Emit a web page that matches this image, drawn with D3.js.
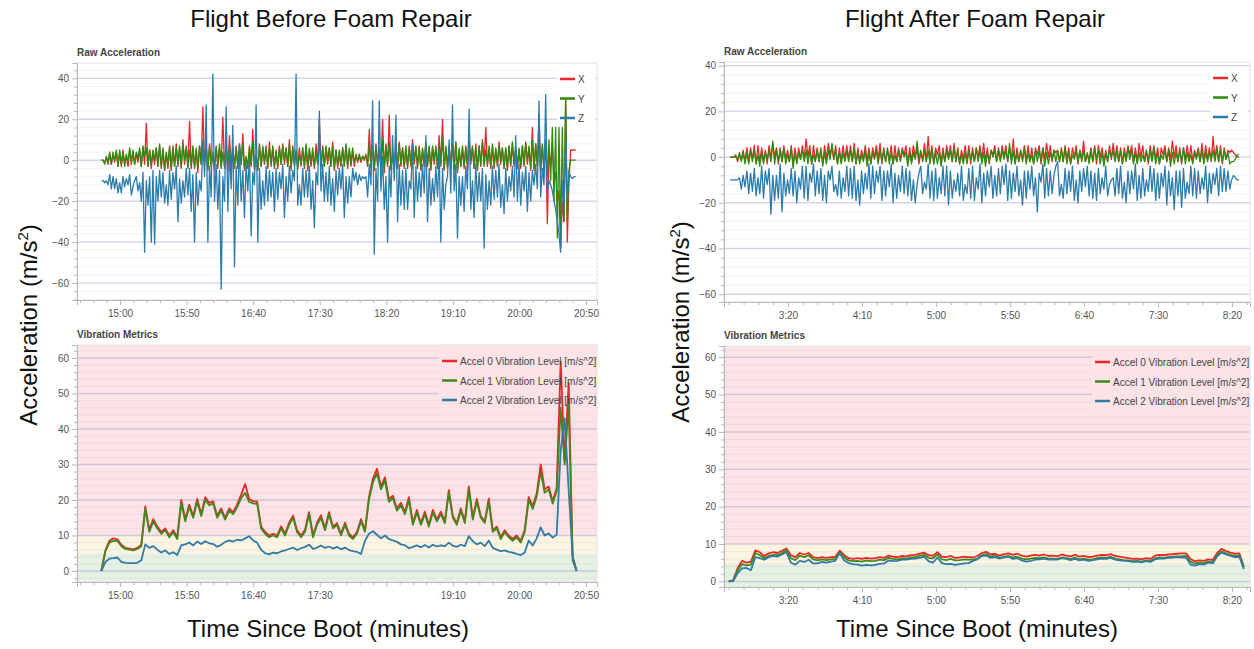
<!DOCTYPE html>
<html>
<head>
<meta charset="UTF-8">
<title>Vibration before / after foam repair</title>
<style>
  body { margin: 0; background: #fff; }
  svg text { font-family: "Liberation Sans", Arial, sans-serif; }
</style>
</head>
<body>
<script src="https://cdn.jsdelivr.net/npm/d3@7"></script>
<script>
// ---- data ----
// raw acceleration, sampled every rawStep seconds starting at the given boot time
const rawStep = 1.25
const beforeRawStart = 886
const beforeX = [0,0,-1,1,-2,3,-2,3,-1,4,-3,4,-3,5,-2,2,-3,5,-2,4,-2,3,-1,5,
  -3,6,-2,18,-3,5,-4,4, -2,6,-3,7,-4,5,-5,3,
  -4,6,-5,7,-3,8,-3,6,-4,10,-2,7,-3,19,-4,6, -4,5,-6,7,-2,26,-3,8,-5,8,-3,4,-5,7,-4,6,
  -3,21,-4,8,-5,12,-6,6,-4,7,-3,8,-2,13,-5,2, -4,7,-3,15,-5,3,-5,8,-3,6,-2,7,-4,9,-3,6,
  -4,5,-4,7,-2,8,-2,6,-3,10,-5,7,-3,4,-4,6, -3,6,-4,7,-5,5,-3,4,-4,8,-2,20,-4,7,-3,6,
  -2,6,-3,9,-5,5,-4,3,-3,6,-2,7,-4,5,-3,5, -3,3,-1,2,-1,2,0,3,
  -3,15,-4,7,-5,8,-3,6,-4,20,-6,8,-3,22,-5,4,-5,7,-4,9,-3,6,-4,6,
  -4,7,-3,10,-2,6,-4,7,-5,5,-3,8,-3,6,-5,6, -2,7,-4,12,-3,20,-5,6,-4,7,-3,8,-5,9,-6,5,
  -3,6,-4,7,-5,13,-2,6,-4,8,-5,7,-3,10,-2,16, -3,6,-4,7,-4,5,-3,9,-2,6,-4,6,-5,7,-3,8,
  -3,6,-4,5,-4,7,-3,9,-2,6,-5,16,-5,8,-3,22, -6,7,-4,10,-31,5,-3,8,-10,-6,-20,-15,-43,-20,-30,30,
  -40,-10,5,5,5,5]
const beforeY = [0,0,-2,2,-1,4,-2,4,0,5,-3,5,-2,4,-3,3,-1,6,-1,5,-2,4,1,6,
  -3,7,2,6,-3,5,-2,5, 0,6,-3,8,-3,6,-4,4,
  -2,7,-4,6,-3,6,-2,7,-3,8,0,6,-4,5,-3,7, -3,6,-4,7,-2,9,-1,6,-4,7,-3,3,-3,6,-2,8,
  -4,4,-3,7,-2,7,-2,6,-3,6,-4,7,-2,8,-4,1, -3,6,-2,9,-4,2,-4,7,-3,7,-1,6,-3,6,-2,7,
  -3,4,-3,6,-2,7,0,6,-3,8,-4,6,-2,5,-4,3, -2,6,-3,8,-3,6,-2,6,-3,4,-2,10,-3,6,-3,7,
  0,6,-3,7,-4,5,-2,5,-2,6,-3,8,-3,6,-2,6, -1,2,0,3,0,2,1,2,
  -2,8,-3,7,-4,7,-2,6,-3,10,-4,7,-2,9,-4,2,-4,7,-3,8,-2,6,-3,7,
  -3,6,-2,8,0,7,-3,6,-4,6,-2,9,-2,7,-4,7, 0,6,-3,8,-2,11,-4,7,-3,6,-2,8,-4,9,-5,6,
  -3,7,-3,6,-2,8,0,7,-4,6,-4,7,-2,9,-3,5, -2,7,-3,8,-3,6,-2,7,0,6,-4,6,-4,7,-2,9,
  -2,6,-3,6,-3,7,-2,8,0,7,-4,10,-4,8,-3,12, -5,8,-6,9,-8,10,-10,16,-20,16,-38,16,-38,16,-30,30,
  -30,-5,0,0,0,0]
const beforeZ = [-10,-10,-11,-10,-12,-7,-14,-8,-14,-9,-16,-11,-16,-8,-13,-9,-12,-7,-17,-13,-10,-8,-15,-11,
  -20,-6,-45,-10,-22,-8,-40,-5, -41,-8,-20,-5,-18,-6,-21,-12,
  -22,-5,-19,-6,-14,-3,-30,-9,-21,-10,-18,-4,-17,-4,-25,-7, -40,-6,-22,-10,-15,10,-8,27,-40,-3,-18,42,-20,-2,-24,-5,
  -63,-8,-20,26,-25,5,-14,17,-52,-3,-22,8,-20,-5,-28,-2, -15,2,-37,-6,-12,27,-40,-4,-24,-10,-22,-3,-20,-5,-18,-6,
  -25,-4,-19,-6,-14,-2,-28,-8,-20,-3,-16,-5,-10,42,-22,-12, -22,-4,-18,-5,-18,-3,-24,-10,-33,-6,-12,24,-15,-2,-20,-6,
  -20,-3,-22,-9,-25,-5,-17,-4,-14,-2,-28,-8,-21,-8,-18,-4, -10,-6,-12,-7,-10,-8,-9,-8,
  -18,-2,-12,29,-46,-4,-20,29,-15,2,-24,-8,-40,-3,-18,12,-10,22,-30,-2,-22,-5,-24,-4,
  -24,-10,-14,8,-28,-3,-20,-6,-18,-2,-16,12,-30,-4,-22,-9, -20,-3,-18,5,-40,-4,-24,-12,-8,10,-16,27,-15,-2,-38,-8,
  -22,-8,-25,-3,-14,25,-24,-10,-28,-2,-20,-6,-20,-4,-43,-7, -24,-10,-22,-3,-19,-5,-18,-2,-23,-12,-26,-4,-20,-8,-15,-3,
  -18,12,-20,-2,-22,-6,-15,-3,-25,-6,-20,-5,-12,-2,-14,29, -18,-4,-12,32,-16,-10,-12,-15,-20,-24,-30,-36,-45,-10,-25,10,
  -20,-6,-8,-9,-8,-8]

const afterRawStart = 161
const afterX = [0,0,0,1,-2,1,-1,3,-2,4,-2,4,-1,5,-3,5, -2,4,-2,3,-3,5,-1,6,0,4,-3,4,-2,5,-1,3,
  -2,5,-3,4,-2,4,-1,5,-1,8,0,5,-3,5,-2,4, -2,3,-3,5,-1,6,1,4,-1,5,-3,4,-2,5,-1,5,
  -1,5,-2,6,-3,4,-2,3,-1,5,-2,4,-3,4,0,5, -1,6,-3,4,-2,3,-1,5,-3,5,-2,4,-1,4,1,5,
  -3,4,-2,5,0,4,-3,2,-1,6,-2,9,-2,5,-3,4, 1,5,-3,4,-2,5,0,5,-2,6,-2,4,-3,3,-1,5,
  -2,5,-3,4,-2,4,0,5,-1,6,-2,4,-3,3,1,5, -2,4,-1,5,0,5,-2,4,-1,8,-3,4,-2,3,-1,5,
  -2,5,-2,4,-3,4,1,5,-3,4,-1,6,0,5,-2,3, 2,3,-2,4,-2,5,-1,4,-3,4,0,5,-3,3,-1,7,
  -2,1,-1,4,-2,5,-3,5,0,4,-2,3,-2,5,-1,6, -1,5,-2,4,-3,4,-1,5,1,5,-2,4,-2,6,0,5,
  -2,3,-3,5,-1,5,-1,4,-3,4,1,5,-2,4,-1,7, 0,5,-2,4,-3,4,-1,5,-1,5,-2,3,0,4,-2,6,
  -2,5,-1,4,-2,9,-1,5,-2,5,-3,4,-1,3,2,3, 2,1,0,0]
const afterY = [0,0,0,0,-1,2,-2,2,-3,2,-3,3,-2,3,-3,1, -4,2,-3,2,-1,3,-2,7,-3,3,-2,3,-2,4,-3,1,
  -2,4,-5,2,-3,2,-1,3,-2,3,-3,3,-3,1,-2,3, -2,4,-4,2,-3,3,-1,6,-1,3,-3,2,-3,2,-2,3,
  -2,3,-2,4,-3,2,-3,1,-2,3,-4,2,-3,2,-1,3, -3,3,-2,3,-2,4,-3,2,-3,1,-2,3,-2,3,0,2,
  -4,2,-3,2,-1,7,-1,3,-2,3,-2,3,-3,4,-3,2, -3,2,-4,2,-2,3,-1,3,-2,4,-2,3,-3,1,-3,2,
  -3,3,-1,2,-2,4,-2,3,-3,2,-4,2,-2,3,0,3, -2,3,-2,3,-1,3,-2,6,-3,3,-3,2,-2,3,-2,4,
  -3,2,-2,1,-3,3,-2,3,-2,4,-4,2,-3,2,-1,3, -2,3,-2,3,-2,4,-3,2,-3,1,-1,3,-2,3,-2,3,
  -2,2,-3,3,-2,4,-1,3,-3,2,-4,2,-2,3,0,3, -2,3,-2,3,-3,2,-2,4,-1,3,-3,2,-3,2,-2,1,
  -2,3,-2,3,-2,4,-3,2,-3,1,-1,3,-2,3,-4,2, -3,2,-2,3,-2,4,-3,2,-2,1,-3,2,-1,3,-2,3,
  -3,2,-2,2,-1,3,-2,4,-2,3,-2,3,-1,2,-3,-2, -2,-1,1,1]
const afterZ = [-10,-10,-10,-10,-10,-9,-14,-8,-13,-6,-16,-7,-15,-5,-17,-9,
  -16,-4,-18,-6,-12,-5,-25,-8,-19,-8,-18,-3,-24,-7,-17,-10, -16,-5,-17,-6,-20,-9,-14,-4,-18,-4,-19,-7,-11,-3,-17,-6,
  -16,-5,-19,-8,-20,-6,-10,-4,-15,-12,-17,-6,-18,-9,-15,-4, -17,-5,-18,-4,-19,-10,-21,-6,-16,-7,-14,-3,-18,-4,-16,-6,
  -11,-4,-19,-6,-17,-6,-13,-3,-20,-7,-18,-8,-15,-4,-16,-5, -17,-6,-19,-10,-20,-12,-7,-4,-16,-11,-14,-3,-18,-6,-19,-5,
  -18,-9,-16,-4,-17,-4,-21,-6,-18,-10,-15,-7,-17,-4,-19,-12, -16,-5,-18,-4,-19,-9,-14,-3,-20,-7,-17,-6,-13,-4,-18,-8,
  -17,-5,-16,-4,-12,-3,-19,-6,-18,-7,-15,-4,-17,-10,-21,-6, -18,-6,-14,-4,-17,-9,-24,-7,-11,-3,-18,-5,-17,-6,-16,-8,
  -4,-2,-17,-12,-18,-5,-16,-6,-15,-4,-19,-10,-20,-6,-15,-5, -13,-4,-17,-6,-18,-7,-19,-5,-16,-9,-14,-4,-17,-12,-10,-9,
  -17,-5,-16,-4,-18,-11,-20,-6,-16,-6,-14,-3,-19,-8,-18,-5, -17,-10,-15,-4,-15,-5,-19,-7,-18,-7,-13,-4,-21,-6,-17,-9,
  -23,-6,-17,-6,-22,-5,-18,-11,-16,-4,-17,-5,-18,-6,-16,-9, -14,-4,-20,-7,-16,-7,-12,-5,-17,-4,-15,-5,-15,-6,-14,-10,
  -8,-9,-10,-10]

// vibration metrics, sampled every vibStep seconds
const vibStep = 3
const beforeVibStart = 886
const beforeAccel0 = [0,5.8,8.5,9.2,8.9,7.4,6.5,6.3,6.1,6.5, 7.4,18.2,11.5,14.6,12.5,11,12,10,11.5,9.5,
  20,14.6,18.7,15.5,20.3,16,20.8,19.2,19.6,15.5, 17.6,15,17.6,16.6,18.7,21.5,24.5,20.3,19.6,19.6,
  12.5,11,10,10.5,10,12.6,10.5,13.6,15.6,11.5, 10,11.6,16.6,10,13.6,15.7,12,16.6,12.5,13.5,
  10.5,13.6,10.5,9.5,11,14.6,11.5,20.8,26,28.8, 23.8,26.4,20.2,21.2,17.6,19.2,16.6,20.8,13.5,17.2,
  13.5,16.7,13,17.2,14.5,16.7,14,22.8,15.5,13.5, 17.6,14,23.8,15,20.3,15.5,14,20.4,11.5,12.5,
  9.5,11.5,10,9,10,8.5,11.6,20.8,18.2,21.8, 30,23,23.8,19.6,23.4,59,31,53,4,0]
const beforeAccel1 = [0,5.5,8,8.5,8.5,7,6.2,6,5.8,6.2, 7,17.5,11,14,12,10.5,11.5,9.5,11,9,
  19,14,18,15,19.5,15.5,20,18.5,19,15, 17,14.5,17,16,18,20.5,22,19.5,19,19,
  12,10.5,9.5,10,9.5,12,10,13,15,11, 9.5,11,16,9.5,13,15,11.5,16,12,13,
  10,13,10,9,10.5,14,11,20,25,27.5, 23,25.5,19.5,20.5,17,18.5,16,20,13,16.5,
  13,16,12.5,16.5,14,16,13.5,22,15,13, 17,13.5,23,14.5,19.5,15,13.5,19.5,11,12,
  9,11,9.5,8.5,9.5,8,11,20,17.5,21, 28,22,23,19,22.5,46,30,47,3,0]
const beforeAccel2 = [0,2.5,3.5,3.6,3.8,2.6,2.3,2.2,2.2,2.3, 3,7.5,6.5,7,6,5.2,5.8,4.8,5.3,4.5,
  7.2,7.5,8,7.2,8.3,7.6,8.4,7.8,7.6,6.8, 7.4,8.2,8.6,8.3,8.8,8.6,9.2,9.8,8.6,8,
  6,5,4.7,5.2,5,5.5,5.8,6.2,6.6,5.9, 6.4,6.8,7.4,6.2,6.6,7.2,6.5,6.9,6.3,6.8,
  6.1,6.6,5.9,5.6,5.4,4.8,8.5,10.5,11.2,10.2, 9.2,10,9,8.6,8.2,7.5,7.3,6.4,6.8,7.2,
  6.7,7.3,6.6,7.4,6.9,7.2,7,8,7.1,6.8, 7.4,7,9.8,8.4,7.5,8,7,8.6,6.5,6,
  5.6,5.8,5.4,5.2,4.8,4.5,5.2,8.6,7.2,9.2, 12.3,10,10.6,9.4,10.2,34,43,23,4,0]

const afterVibStart = 160
const afterAccel0 = [0,0.3,3.5,5.5,5,5.3,8.3,7.8,6.8,7.5, 7.8,7.6,8.2,8.8,7,6.5,7.6,7.2,7.6,6.5,
  6.2,6.5,6.3,6.5,6.6,8.2,7,6.2,6,6.2, 6,6.3,6.1,6.2,6.5,6.3,6.9,6.6,6.5,6.8,
  6.7,7,7.1,7.4,7.7,7,6.9,7.8,6.6,6.5, 6.8,6.3,6.4,6.6,6.5,6.4,6.8,7.6,7.9,7.2,
  7.4,6.9,7.3,7.5,7.1,7.4,6.9,6.6,6.9,7.1, 6.9,7.2,6.8,6.9,6.7,7.2,6.9,6.7,7.1,6.6,
  6.8,6.5,6.6,6.9,7.1,7,7.3,6.8,6.6,6.4, 6.2,6,6.1,5.9,6.2,6,6.9,7.1,7,7.2,
  7.3,7.4,7.5,7.5,6,5.4,5.6,5.5,5.9,5.7, 7.6,8.7,8.1,7.7,7.4,7.5,4]
const afterAccel1 = [0,0.2,3,4.6,4.3,4.5,7.6,7,6.2,6.8, 7.1,7,7.6,8.3,6.2,5.7,6.9,6.5,7,5.9,
  5.6,5.9,5.7,5.9,6,7.8,6.4,5.6,5.4,5.5, 5.3,5.6,5.4,5.5,5.8,5.7,6.3,6,5.9,6.2,
  6.1,6.4,6.5,6.8,7.1,6.3,6.2,7.2,5.9,5.7, 6,5.6,5.7,5.9,5.8,5.8,6.1,7,7.3,6.6,
  6.9,6.3,6.6,6.8,6.4,6.6,6.1,5.9,6.1,6.3, 6.2,6.4,6.1,6.1,6,6.4,6.2,6,6.3,5.9,
  6.1,5.8,5.9,6.2,6.4,6.3,6.6,6.1,5.9,5.7, 5.6,5.4,5.5,5.3,5.6,5.4,6.2,6.4,6.3,6.5,
  6.6,6.7,6.7,6.8,5.3,4.8,5,4.9,5.3,5.1, 7,8,7.5,7.1,6.8,6.9,3.8]
const afterAccel2 = [0,0.1,2.2,3.5,3.6,3,6.5,6.2,5.8,6.5, 6.8,6.6,7.2,7.8,5,4.5,5.5,5.2,5.8,4.8,
  4.8,5.2,5,5.3,5.5,7.5,5.6,4.9,4.6,4.5, 4.2,4.4,4.3,4.4,4.7,4.8,5.6,5.4,5.5,5.8,
  5.8,6,6.1,6.3,6.6,5.4,5,6.4,4.9,4.6, 4.7,4.4,4.6,4.8,4.9,5.5,5.9,6.8,6.9,6.3,
  6.5,6.1,6.4,6.6,6,6.2,5.6,5.3,5.5,5.8, 5.9,6.1,5.8,5.9,5.8,6.2,6,5.7,6,5.6,
  5.8,5.5,5.7,5.9,6.1,6,6.3,5.8,5.6,5.5, 5.4,5.2,5.3,5.1,5.4,5.2,5.9,6.1,6.1,6.3,
  6.4,6.5,6.4,6.4,4.5,4.2,4.6,4.5,5,4.8, 6.7,7.7,7.2,6.8,6.5,6.6,3.3]

// ticks and labels
const rawTicks = [-60, -40, -20, 0, 20, 40]
const vibTicks = [0, 10, 20, 30, 40, 50, 60]
const beforeTimeTicks = [900, 950, 1000, 1050, 1100, 1150, 1200, 1250]
const afterTimeTicks = [200, 250, 300, 350, 400, 450, 500]
const rawNames = ["X", "Y", "Z"]
const vibNames = ["Accel 0 Vibration Level [m/s^2]", "Accel 1 Vibration Level [m/s^2]", "Accel 2 Vibration Level [m/s^2]"]
const vibBands = [5, 10]   // green below 5, yellow 5..10, red above

// ---- drawing ----
var width = 1254
var height = 649
var red = "#e8262b", green = "#2e8b0e", blue = "#2b7bab"

var svg = d3.select("body").append("svg")
    .attr("width", width)
    .attr("height", height)

function fmtTime(s) {
    var m = Math.floor(s / 60)
    var ss = Math.round(s - m * 60)
    return m + ":" + String(ss).padStart(2, "0")
}

var clipId = 0

function drawPlot(p) {
    var x = d3.scaleLinear().domain(p.xDomain).range([p.left, p.right])
    var y = d3.scaleLinear().domain(p.yDomain).range([p.bottom, p.top])
    var g = svg.append("g")

    // background bands (vibration thresholds)
    if (p.bands) {
        var edges = [p.yDomain[0]].concat(p.bands).concat([p.yDomain[1]])
        var cols = ["#e6f1e4", "#fdf4e1", "#fce3e6"]
        for (var b = 0; b < edges.length - 1; b++) {
            g.append("rect")
                .attr("x", p.left).attr("width", p.right - p.left)
                .attr("y", y(edges[b + 1])).attr("height", y(edges[b]) - y(edges[b + 1]))
                .attr("fill", cols[b])
        }
    }

    // minor + major grid
    var minor = d3.range(Math.ceil(p.yDomain[0] / p.yMinor) * p.yMinor, p.yDomain[1], p.yMinor)
    g.selectAll(".minor").data(minor).enter().append("line")
        .attr("x1", p.left).attr("x2", p.right)
        .attr("y1", d => y(d)).attr("y2", d => y(d))
        .attr("stroke", "#9c9cc8").attr("stroke-opacity", 0.13).attr("stroke-width", 1)
    g.selectAll(".major").data(p.yTicks).enter().append("line")
        .attr("x1", p.left).attr("x2", p.right)
        .attr("y1", d => y(d)).attr("y2", d => y(d))
        .attr("stroke", "#8c8cc8").attr("stroke-opacity", 0.3).attr("stroke-width", 1.5)

    // outline
    g.append("rect")
        .attr("x", p.left).attr("y", p.top)
        .attr("width", p.right - p.left).attr("height", p.bottom - p.top)
        .attr("fill", "none").attr("stroke", "#e2e2e2")

    // legend background sits under the data lines
    g.append("rect")
        .attr("x", p.right - p.legendW).attr("y", p.top + 5)
        .attr("width", p.legendW - 2).attr("height", 60)
        .attr("fill", p.bands ? "#fce3e6" : "#fff").attr("opacity", 0.95)

    // series
    clipId++
    svg.append("clipPath").attr("id", "clip" + clipId)
        .append("rect").attr("x", p.left).attr("y", p.top)
        .attr("width", p.right - p.left).attr("height", p.bottom - p.top)
    var lines = g.append("g").attr("clip-path", "url(#clip" + clipId + ")")
    p.series.forEach(function (s) {
        var line = d3.line()
            .x((d, i) => x(s.start + i * s.step))
            .y(d => y(d))
        lines.append("path")
            .datum(s.values)
            .attr("d", line)
            .attr("fill", "none")
            .attr("stroke", s.color)
            .attr("stroke-width", s.width)
            .attr("stroke-linejoin", "round")
    })

    // y axis
    var yAxis = d3.axisLeft(y).tickValues(p.yTicks).tickSize(5).tickPadding(3)
    g.append("g").attr("transform", "translate(" + p.left + ",0)").call(yAxis)
    var yMin = d3.axisLeft(y).tickValues(minor.filter(d => p.yTicks.indexOf(d) < 0)).tickSize(3).tickFormat("")
    var ym = g.append("g").attr("transform", "translate(" + p.left + ",0)").call(yMin)
    ym.select(".domain").remove()

    // x axis
    var xAxis = d3.axisBottom(x).tickValues(p.xTicks).tickSize(5).tickPadding(5)
        .tickFormat(d => (p.hideLabels && p.hideLabels.indexOf(d) >= 0) ? "" : fmtTime(d))
    g.append("g").attr("transform", "translate(0," + p.bottom + ")").call(xAxis)
    var xm = d3.range(Math.ceil(p.xDomain[0] / 10) * 10, p.xDomain[1], 10).filter(d => p.xTicks.indexOf(d) < 0)
    var xMin = d3.axisBottom(x).tickValues(xm).tickSize(3).tickFormat("")
    var xmg = g.append("g").attr("transform", "translate(0," + p.bottom + ")").call(xMin)
    xmg.select(".domain").remove()

    g.selectAll(".domain").attr("stroke", "#b8b8b8")
    g.selectAll(".tick line").attr("stroke", "#b8b8b8")
    g.selectAll(".tick text").attr("fill", "#555").attr("font-size", "10px")
        .attr("font-family", "'Liberation Sans', Arial, sans-serif")

    // plot title
    g.append("text")
        .attr("x", p.left).attr("y", p.top - 7)
        .attr("font-size", "10px").attr("font-weight", "bold").attr("fill", "#444")
        .text(p.title)

    // legend entries
    var lg = g.append("g")
    p.series.forEach(function (s, i) {
        var ly = p.top + 16 + i * 19.5
        lg.append("line")
            .attr("x1", p.right - p.legendW + 3).attr("x2", p.right - p.legendW + 18)
            .attr("y1", ly).attr("y2", ly)
            .attr("stroke", s.color).attr("stroke-width", 2.5)
        lg.append("text")
            .attr("x", p.right - p.legendW + 21).attr("y", ly + 4)
            .attr("font-size", "10px").attr("fill", "#444")
            .text(s.name)
    })
}

function series(names, arrays, start, step, colors, w) {
    return arrays.map((a, i) => ({ name: names[i], values: a, start: start, step: step, color: colors[i], width: w }))
}

// left: before repair
drawPlot({
    left: 77, right: 597, top: 63, bottom: 300,
    xDomain: [867.7, 1258.3], yDomain: [-68.3, 47.5],
    yTicks: rawTicks, yMinor: 4, xTicks: beforeTimeTicks,
    title: "Raw Acceleration", legendW: 40,
    series: series(rawNames, [beforeX, beforeY, beforeZ], beforeRawStart, rawStep, [red, green, blue], 1.3)
})
drawPlot({
    left: 77, right: 597, top: 345, bottom: 582,
    xDomain: [867.7, 1258.3], yDomain: [-3.1, 63.66],
    yTicks: vibTicks, yMinor: 2, xTicks: beforeTimeTicks, hideLabels: [1100],
    title: "Vibration Metrics", legendW: 158, bands: vibBands,
    series: series(vibNames, [beforeAccel0, beforeAccel1, beforeAccel2], beforeVibStart, vibStep, [red, "#3f8a19", "#2f7aa6"], 1.8)
})
// right: after repair
drawPlot({
    left: 724, right: 1250, top: 62, bottom: 302,
    xDomain: [156.8, 512.2], yDomain: [-63.4, 41.6],
    yTicks: rawTicks, yMinor: 4, xTicks: afterTimeTicks,
    title: "Raw Acceleration", legendW: 40,
    series: series(rawNames, [afterX, afterY, afterZ], afterRawStart, rawStep, [red, green, blue], 1.3)
})
drawPlot({
    left: 724, right: 1250, top: 346, bottom: 587,
    xDomain: [156.8, 512.2], yDomain: [-1.5, 63.0],
    yTicks: vibTicks, yMinor: 2, xTicks: afterTimeTicks,
    title: "Vibration Metrics", legendW: 158, bands: vibBands,
    series: series(vibNames, [afterAccel0, afterAccel1, afterAccel2], afterVibStart, vibStep, [red, "#3f8a19", "#2f7aa6"], 1.8)
})

// slide text around the screenshots
function bigText(x, y, t) {
    return svg.append("text").attr("x", x).attr("y", y)
        .attr("text-anchor", "middle").attr("font-size", "24px").attr("fill", "#111").text(t)
}
bigText(331, 27, "Flight Before Foam Repair")
bigText(975, 27, "Flight After Foam Repair")
bigText(328, 637, "Time Since Boot (minutes)")
bigText(977, 637, "Time Since Boot (minutes)")

function yLabel(x, yc) {
    var t = svg.append("text")
        .attr("transform", "translate(" + x + "," + yc + ") rotate(-90)")
        .attr("text-anchor", "middle").attr("font-size", "24px").attr("fill", "#111")
    t.append("tspan").text("Acceleration (m/s")
    t.append("tspan").attr("dy", -9).attr("font-size", "15px").text("2")
    t.append("tspan").attr("dy", 9).text(")")
}
yLabel(37, 325)
yLabel(689, 322)
</script>
</body>
</html>
